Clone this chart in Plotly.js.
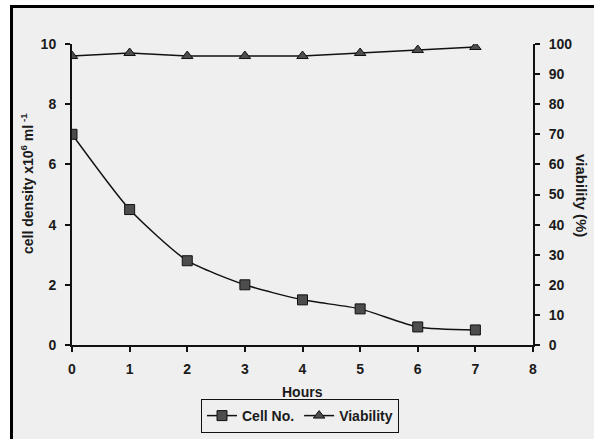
<!DOCTYPE html>
<html>
<head>
<meta charset="utf-8">
<script src="https://cdn.plot.ly/plotly-3.0.1.min.js"></script>
<style>
html,body{margin:0;padding:0;background:#ffffff;}
#chart{width:594px;height:439px;}
</style>
</head>
<body>
<div id="chart"></div>
<script>
// ---- data ----
var hours = [0, 1, 2, 3, 4, 5, 6, 7];
var cellDensity = [7.0, 4.5, 2.8, 2.0, 1.5, 1.2, 0.6, 0.5];
var viability = [96, 97, 96, 96, 96, 97, 98, 99];
var xTicks = [0, 1, 2, 3, 4, 5, 6, 7, 8];
var leftTicks = [0, 2, 4, 6, 8, 10];
var rightTicks = [0, 10, 20, 30, 40, 50, 60, 70, 80, 90, 100];

var FONT = 'Liberation Sans, Arial, sans-serif';
var tickFont = {family: FONT, size: 14, color: '#1a1a1a', weight: 'bold'};

var W = 594, H = 439, L = 72, R = 61, T = 44, B = 94;
var pw = W - L - R, ph = H - T - B;
function px(x){ return (x - L) / pw; }
function py(y){ return (H - B - y) / ph; }

var traces = [
  {
    x: hours, y: cellDensity, name: 'Cell No.', type: 'scatter', mode: 'lines+markers',
    xaxis: 'x', yaxis: 'y',
    line: {color: '#111111', width: 1.5, shape: 'spline', smoothing: 0.6},
    marker: {symbol: 'square', size: 10, color: '#4d4d4d', line: {color: '#111111', width: 1}}
  },
  {
    x: hours, y: viability, name: 'Viability', type: 'scatter', mode: 'lines+markers',
    xaxis: 'x', yaxis: 'y2',
    line: {color: '#111111', width: 1.5},
    marker: {symbol: 'triangle-up', size: 10, color: '#4d4d4d', line: {color: '#111111', width: 1}}
  }
];

var baseAx = {
  showgrid: false, zeroline: false, showline: true, linecolor: '#111111', linewidth: 2,
  ticks: 'outside', ticklen: 5, tickwidth: 2, tickcolor: '#111111', tickfont: tickFont,
  fixedrange: true, automargin: false
};
function ax(o){ var r = {}; for (var k in baseAx) r[k] = baseAx[k]; for (var k2 in o) r[k2] = o[k2]; return r; }

var layout = {
  width: W, height: H,
  margin: {l: L, r: R, t: T, b: B, pad: 0, autoexpand: false},
  paper_bgcolor: '#ffffff',
  plot_bgcolor: 'rgba(0,0,0,0)',
  showlegend: true,
  legend: {
    orientation: 'h', xref: 'container', yref: 'container',
    x: 300 / W, xanchor: 'center', y: 1 - 399 / H, yanchor: 'top',
    bgcolor: 'rgba(0,0,0,0)', bordercolor: '#111111', borderwidth: 1,
    font: {family: FONT, size: 14, color: '#1a1a1a', weight: 'bold'},
    itemwidth: 30, tracegroupgap: 0
  },
  xaxis: ax({
    range: [0, 8], tickmode: 'array', tickvals: xTicks, ticktext: xTicks.map(String),
    anchor: 'y', ticklabelstandoff: 5
  }),
  xaxis2: ax({
    range: [0, 8], overlaying: 'x', anchor: 'y', tickmode: 'array', tickvals: xTicks,
    ticks: 'inside', showticklabels: false, showline: false
  }),
  yaxis: ax({
    range: [0, 10], tickmode: 'array', tickvals: leftTicks, ticktext: leftTicks.map(String),
    anchor: 'x', ticklabelstandoff: 6
  }),
  yaxis3: ax({
    range: [0, 10], overlaying: 'y', anchor: 'x', side: 'left', tickmode: 'array', tickvals: leftTicks,
    ticks: 'inside', showticklabels: false, showline: false
  }),
  yaxis2: ax({
    range: [0, 100], overlaying: 'y', side: 'right', anchor: 'x', tickmode: 'array',
    tickvals: rightTicks, ticktext: rightTicks.map(String), ticklabelstandoff: 6
  }),
  yaxis4: ax({
    range: [0, 100], overlaying: 'y', side: 'right', anchor: 'x', tickmode: 'array',
    tickvals: rightTicks, ticks: 'inside', showticklabels: false, showline: false
  }),
  shapes: [
    {type: 'rect', xref: 'paper', yref: 'paper', x0: px(10), x1: px(594), y0: py(5), y1: py(439),
     fillcolor: '#efefef', line: {width: 0}, layer: 'below'},
    {type: 'line', xref: 'paper', yref: 'paper', x0: px(11.5), x1: px(11.5), y0: py(5), y1: py(439),
     line: {color: '#000000', width: 3}},
    {type: 'line', xref: 'paper', yref: 'paper', x0: px(10), x1: px(594), y0: py(6.5), y1: py(6.5),
     line: {color: '#000000', width: 3}}
  ],
  annotations: [
    {text: 'Hours', xref: 'paper', yref: 'paper',
     x: px(302), y: py(392), xanchor: 'center', yanchor: 'middle', showarrow: false,
     font: {family: FONT, size: 14, color: '#1a1a1a', weight: 'bold'}},
    {text: 'cell density x10<sup>6</sup> ml<sup> -1</sup>', xref: 'paper', yref: 'paper',
     x: px(27), y: py(184), xanchor: 'center', yanchor: 'middle', textangle: -90, showarrow: false,
     font: {family: FONT, size: 14, color: '#1a1a1a', weight: 'bold'}},
    {text: 'viability (%)', xref: 'paper', yref: 'paper',
     x: px(582), y: py(195), xanchor: 'center', yanchor: 'middle', textangle: 90, showarrow: false,
     font: {family: FONT, size: 15, color: '#1a1a1a', weight: 'bold'}}
  ]
};

Plotly.newPlot('chart', traces, layout, {displayModeBar: false, staticPlot: true});
</script>
</body>
</html>
